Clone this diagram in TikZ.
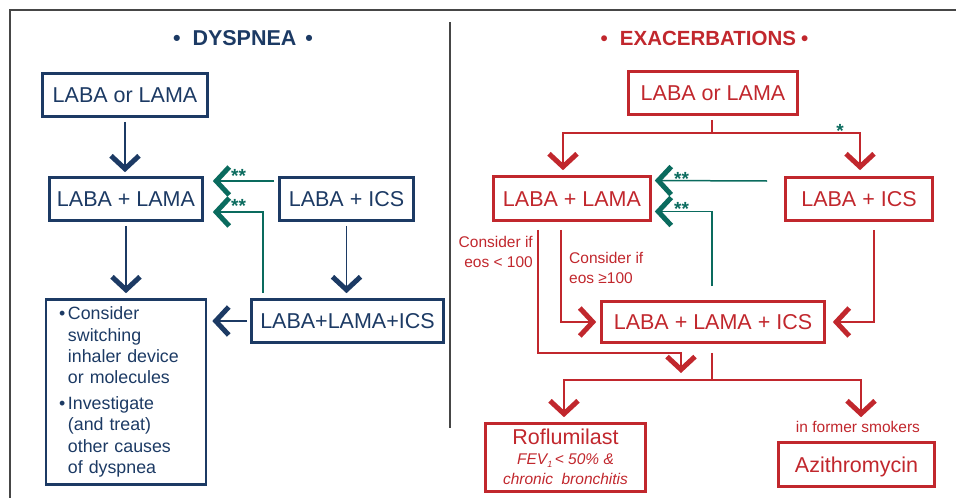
\documentclass[tikz,border=0pt]{standalone}
\usepackage{fontspec}
\setmainfont{Liberation Sans}
\usetikzlibrary{arrows.meta,calc}
\definecolor{navy}{RGB}{28,58,100}
\definecolor{cred}{RGB}{193,39,45}
\definecolor{teal2}{RGB}{10,107,94}
\definecolor{framec}{RGB}{70,70,70}
\newcommand\fs[1]{\fontsize{#1}{#1}\selectfont}
\begin{document}
\begin{tikzpicture}[x=1pt,y=-1pt,
 boxbase/.style={draw,line width=2.6pt,inner sep=0pt},
 box/.style={boxbase,font=\fs{21.5},text height=15.4pt,text depth=0pt},
 bbox/.style={box,draw=navy,text=navy},
 rbox/.style={box,draw=cred,text=cred},
 chev/.style={-{Straight Barb[length=13pt,width=28pt,line width'=5pt,sharp]}},
 bcon/.style={chev,draw=navy,line width=1.5pt},
 rcon/.style={chev,draw=cred,line width=1.5pt},
 gcon/.style={chev,draw=teal2,line width=1.5pt},
 rline/.style={draw=cred,line width=1.5pt},
 star/.style={text=teal2,font=\bfseries\fs{19},inner sep=0pt},
 note/.style={text=cred,font=\fontsize{15.5}{20}\selectfont,inner sep=0pt},
 rule/.style={draw=framec,line width=2.5pt}
]
\useasboundingbox (0,0) rectangle (956,498);
% frame and divider
\draw[rule] (10,500) -- (10,10) -- (958,10);
\draw[rule] (450,22) -- (450,428);

% ---------------- DYSPNEA ----------------
\node[text=navy,font=\bfseries\fs{21.5},inner sep=0pt] (tdys) at (243,38)
  {\textbullet\hspace{12pt}DYSPNEA\hspace{9pt}\textbullet};
\node[bbox,minimum width=165pt,minimum height=43pt] (lorl) at (125,95) {LABA or LAMA};
\node[bbox,minimum width=153pt,minimum height=43pt] (lpl) at (126,199) {LABA + LAMA};
\node[bbox,minimum width=134pt,minimum height=43pt] (lics) at (346.5,199) {LABA + ICS};
\node[bbox,minimum width=192pt,minimum height=43pt] (ltri) at (347.5,321) {LABA+LAMA+ICS};
\node[boxbase,draw=navy,text=navy,minimum width=159pt,minimum height=185pt,
  text width=134pt,inner xsep=13pt,align=left,
  font=\fontsize{17.8}{21.3}\selectfont] (lcons) at (126,392)
  {\makebox[9pt][l]{\textbullet}Consider\\
   \hspace*{9pt}switching\\
   \hspace*{9pt}inhaler device\\
   \hspace*{9pt}or molecules\\[4.5pt]
   \makebox[9pt][l]{\textbullet}Investigate\\
   \hspace*{9pt}(and treat)\\
   \hspace*{9pt}other causes\\
   \hspace*{9pt}of dyspnea};

\draw[bcon] ($(lorl.south)+(0,4)$) -- ($(lorl.south |- lpl.north)+(0,-4)$);
\draw[bcon] ($(lpl.south)+(0,4)$) -- ($(lpl.south |- lcons.north)+(0,-5)$);
\draw[bcon] ($(lics.south)+(0,4)$) -- ($(lics.south |- ltri.north)+(0,-5)$);
\draw[bcon] ($(ltri.west)+(-3,0)$) -- ($(ltri.west -| lcons.east)+(5,0)$);
\draw[gcon] ($(lics.west)+(-4,-18)$) -- ($(lpl.east)+(9,-18)$);
\draw[gcon] ($(ltri.north west)+(13,-5)$) |- ($(lpl.east)+(9,13)$);
\node[star,anchor=base west] (ls1) at (231,182) {**};
\node[star,anchor=base west] (ls2) at (231,212) {**};

% ---------------- EXACERBATIONS ----------------
\node[text=cred,font=\bfseries\fs{20.5},inner sep=0pt] (texa) at (704.5,38)
  {\textbullet\hspace{12pt}EXACERBATIONS\hspace{5pt}\textbullet};
\node[rbox,minimum width=169pt,minimum height=43pt] (rorl) at (713,93) {LABA or LAMA};
\node[rbox,minimum width=157pt,minimum height=44pt] (rpl) at (572,198.5) {LABA + LAMA};
\node[rbox,minimum width=147pt,minimum height=43pt] (rics) at (859,199) {LABA + ICS};
\node[rbox,minimum width=223pt,minimum height=41pt] (rtri) at (713,322) {LABA + LAMA + ICS};
\node[boxbase,draw=cred,minimum width=160pt,minimum height=68pt] (rrof) at (565.5,457.5) {};
\node[text=cred,font=\fs{21.5},inner sep=0pt,anchor=base] (rroft) at (565.5,444) {Roflumilast};
\node[text=cred,font=\itshape\fs{15.5},inner sep=0pt,anchor=base] (rrofa) at (565.5,464)
  {FEV\raisebox{-3pt}{\fs{9}1}\,< 50\% \&};
\node[text=cred,font=\itshape\fs{15.5},inner sep=0pt,anchor=base] (rrofb) at (565.5,484)
  {chronic\ \ bronchitis};
\node[rbox,minimum width=156pt,minimum height=44pt] (razi) at (856.5,464.5) {Azithromycin};
\node[note,anchor=base] (rsmk) at (858,432) {in former smokers};
\node[note,anchor=north east,align=right] (rlow) at (533,236) {Consider if\\eos < 100};
\node[note,anchor=north west,align=left] (rhigh) at (569,252) {Consider if\\eos ≥100};

\coordinate (rj1) at (712,133);
\draw[rline] ($(rorl.south)+(-1,4)$) -- (rj1);
\draw[rcon] (rj1) -| ($(rpl.north)+(-9,-5)$);
\draw[rcon] (rj1) -| ($(rics.north)+(1,-6)$);
\node[star,anchor=base] (rs0) at (840,137) {*};

\draw[gcon] ($(rics.west)+(-17,-18)$) -- ($(rpl.east)+(3,-18)$);
\draw[gcon] ($(rtri.north)+(-1,-14)$) |- ($(rpl.east)+(3,13)$);
\node[star,anchor=base west] (rs1) at (674,185) {**};
\node[star,anchor=base west] (rs2) at (674,215) {**};

\coordinate (rmerge) at (681,373);
\draw[rcon] ($(rpl.south west)+(46,8)$) |- ($(rmerge)+(0,-20)$) -- (rmerge);
\draw[rcon] ($(rpl.south west)+(69,8)$) |- ($(rtri.west)+(-4,0)$);
\draw[rcon] ($(rics.south)+(15,8)$) |- ($(rtri.east)+(7,0)$);

\coordinate (rj2) at (712,380);
\draw[rline] ($(rtri.south)+(-1,9)$) -- (rj2);
\draw[rcon] (rj2) -| ($(rrof.north)+(-1.5,-5)$);
\draw[rcon] (rj2) -| ($(razi.north)+(4.5,-24)$);
\end{tikzpicture}
\end{document}
